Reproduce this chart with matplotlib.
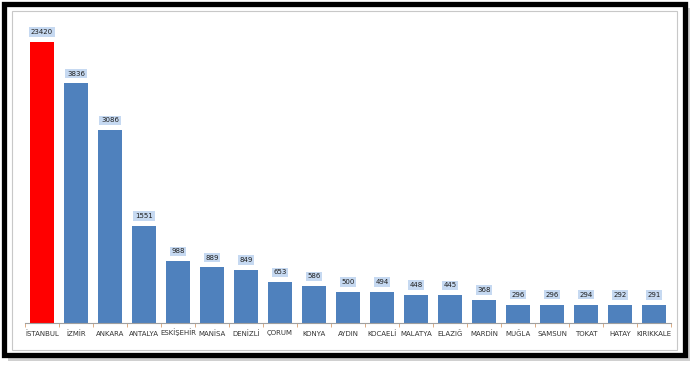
import matplotlib
matplotlib.use("Agg")
import matplotlib.pyplot as plt
from matplotlib.patches import Rectangle

cities = ["İSTANBUL", "İZMİR", "ANKARA", "ANTALYA", "ESKİŞEHİR", "MANİSA", "DENİZLİ",
          "ÇORUM", "KONYA", "AYDIN", "KOCAELİ", "MALATYA", "ELAZIĞ", "MARDİN",
          "MUĞLA", "SAMSUN", "TOKAT", "HATAY", "KIRIKKALE"]
values = [23420, 3836, 3086, 1551, 988, 889, 849, 653, 586, 500, 494, 448, 445, 368,
          296, 296, 294, 292, 291]
y_max = 4500

W, H = 692, 368
fig = plt.figure(figsize=(W / 100, H / 100), dpi=100)
fig.patch.set_facecolor("white")

def fx(x):
    return x / W

def fy(y):
    return 1 - y / H

# shadow
fig.patches.append(Rectangle((fx(8), fy(361)), fx(682), fy(8) - fy(361),
                             transform=fig.transFigure, facecolor="#d0d0d0", edgecolor="none", zorder=0))
# outer white card
fig.patches.append(Rectangle((fx(4), fy(355)), fx(681), fy(4) - fy(355),
                             transform=fig.transFigure, facecolor="white", edgecolor="black",
                             linewidth=3.8, zorder=1))
# inner grey border
fig.patches.append(Rectangle((fx(12), fy(350)), fx(665), fy(11) - fy(350),
                             transform=fig.transFigure, facecolor="none", edgecolor="#c8c8c8",
                             linewidth=0.8, zorder=2))

ax = fig.add_axes([fx(25), fy(323), fx(671 - 25), fy(42) - fy(323)])
ax.set_facecolor("none")
ax.set_zorder(3)

x = list(range(len(cities)))
colors = ["#ff0000"] + ["#4f81bd"] * (len(cities) - 1)
ax.bar(x, values, width=0.7, color=colors, edgecolor="none", zorder=2)
ax.set_xlim(-0.5, len(cities) - 0.5)
ax.set_ylim(0, y_max)

for xi, v in zip(x, values):
    yv = min(v, y_max)
    ax.annotate(str(v), (xi, yv), xytext=(0, 5), textcoords="offset points",
                ha="center", va="bottom", fontsize=5, color="#1f1f1f",
                annotation_clip=False,
                bbox=dict(boxstyle="square,pad=0.25", facecolor="#c6d9f1", edgecolor="none"))

for s in ["top", "right", "left"]:
    ax.spines[s].set_visible(False)
ax.spines["bottom"].set_color("#a0a0a0")
ax.spines["bottom"].set_linewidth(0.8)
ax.set_yticks([])
ax.set_xticks(x)
ax.set_xticklabels(cities, fontsize=5.0, color="#333333")
ax.tick_params(axis="x", length=0, pad=9)
for lab in ax.get_xticklabels():
    lab.set_verticalalignment("baseline")
ax.set_xticks([i - 0.5 for i in range(len(cities) + 1)], minor=True)
ax.tick_params(axis="x", which="minor", length=3, color="#d8a070", width=0.6)

fig.savefig("out.png", dpi=100)
